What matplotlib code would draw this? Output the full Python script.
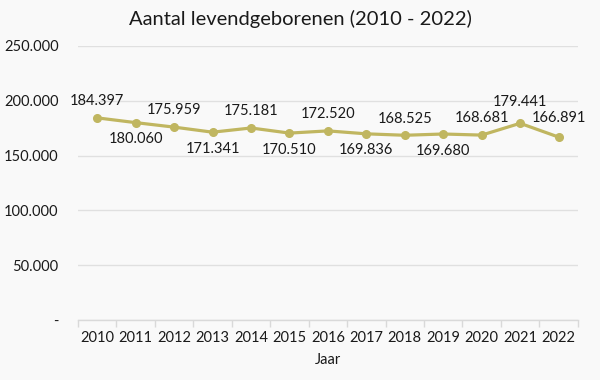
import numpy as np
import matplotlib
matplotlib.use('Agg')
import matplotlib.pyplot as plt
from matplotlib.ticker import FuncFormatter

years = ['2010', '2011', '2012', '2013', '2014', '2015', '2016',
         '2017', '2018', '2019', '2020', '2021', '2022']
births = [184397, 180060, 175959, 171341, 175181, 170510, 172520,
          169836, 168525, 169680, 168681, 179441, 166891]
# label offset in points: above (+) or below (-) the point
label_off = [12, -12, 12, -12, 12, -12, 12, -12, 12, -12, 12, 15, 14]

plt.rcParams['font.family'] = ['Lato', 'DejaVu Sans']

bg = '#f9f9f9'
line_col = '#c0b660'

fig = plt.figure(figsize=(6, 3.8), dpi=100, facecolor=bg)
ax = fig.add_axes([0.13, 0.158, 0.833, 0.721], facecolor=bg)

x = np.arange(len(years))
ax.plot(x, births, color=line_col, lw=2.3, marker='o', ms=5.5, zorder=3)

def dotfmt(v):
    return f'{int(round(v)):,}'.replace(',', '.')

for xi, v, off in zip(x, births, label_off):
    ax.annotate(dotfmt(v), (xi, v), xytext=(0, off), textcoords='offset points',
                ha='center', va='center', fontsize=10.5, color='#1a1a1a')

ax.set_xlim(-0.5, len(years) - 0.5)
ax.set_ylim(0, 250000)
ax.set_yticks(np.arange(0, 250001, 50000))
ax.yaxis.set_major_formatter(FuncFormatter(lambda v, p: '-' if v == 0 else dotfmt(v)))
ax.set_xticks(x)
ax.set_xticklabels(years)
ax.set_xticks(np.arange(-0.5, len(years), 1), minor=True)
ax.tick_params(axis='x', which='major', length=0, pad=8, labelsize=10.5, colors='#1a1a1a')
ax.tick_params(axis='x', which='minor', length=5, color='#d9d9d9', width=1)
ax.tick_params(axis='y', length=0, pad=14, labelsize=10.5, colors='#1a1a1a')

ax.grid(axis='y', color='#e0e0e0', lw=1)
ax.set_axisbelow(True)
for sp in ['left', 'right', 'top']:
    ax.spines[sp].set_visible(False)
ax.spines['bottom'].set_color('#d9d9d9')
ax.spines['bottom'].set_linewidth(1)

ax.set_xlabel('Jaar', fontsize=10.5, color='#1a1a1a', labelpad=6)
fig.suptitle('Aantal levendgeborenen (2010 - 2022)', fontsize=14.5, y=0.975, color='#1a1a1a')

fig.savefig('out.png', dpi=100, facecolor=bg)
